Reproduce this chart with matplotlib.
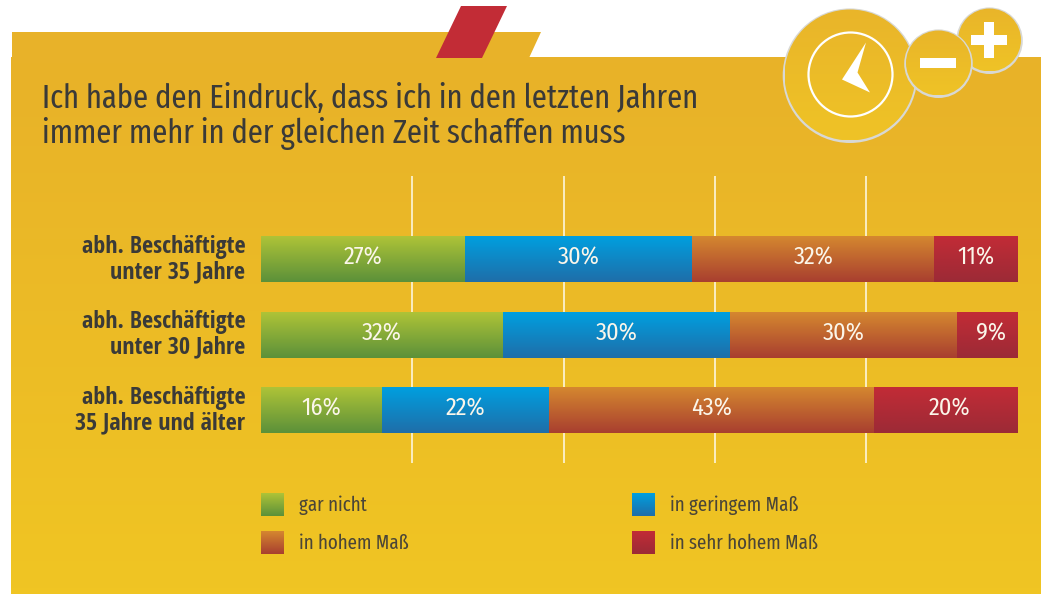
import numpy as np
import matplotlib
matplotlib.use("Agg")
import matplotlib.pyplot as plt
from matplotlib.colors import LinearSegmentedColormap
from matplotlib.patches import Circle, Polygon, Rectangle

title_lines = ["Ich habe den Eindruck, dass ich in den letzten Jahren", "immer mehr in der gleichen Zeit schaffen muss"]
groups = ["abh. Beschäftigte\nunter 35 Jahre", "abh. Beschäftigte\nunter 30 Jahre", "abh. Beschäftigte\n35 Jahre und älter"]
series = ["gar nicht", "in geringem Maß", "in hohem Maß", "in sehr hohem Maß"]
gar_nicht = [27, 32, 16]
geringem = [30, 30, 22]
hohem = [32, 30, 43]
sehr_hohem = [11, 9, 20]
ticks = [20, 40, 60, 80]

FONT = ["Fira Sans Extra Condensed", "Roboto Condensed", "Open Sans", "DejaVu Sans"]
FONT_VALUE = ["Fira Sans Condensed", "Roboto Condensed", "Open Sans", "DejaVu Sans"]
FONT_BOLD = ["Open Sans Condensed", "Roboto Condensed", "Open Sans", "DejaVu Sans"]
DARK = "#3a3a38"
W, H = 1046, 594
grads = [("#aec337", "#5c913a"), ("#009fdf", "#1f6ea9"), ("#d5872f", "#a83f30"), ("#c22c36", "#9c2a36")]


def px_axes(fig, x0, y0, x1, y1):
    return fig.add_axes([x0 / W, 1 - y1 / H, (x1 - x0) / W, (y1 - y0) / H])


def fill_grad(ax, c1, c2, left, right, top, bottom, zorder=2):
    cmap = LinearSegmentedColormap.from_list("g", [c1, c2])
    return ax.imshow(np.linspace(0, 1, 64).reshape(-1, 1), extent=[left, right, bottom, top],
                     aspect="auto", cmap=cmap, zorder=zorder, interpolation="bilinear")


fig = plt.figure(figsize=(W / 100, H / 100), dpi=100, facecolor="white")

# page decoration, in pixels
bg = px_axes(fig, 0, 0, W, H)
bg.axis("off")
bg.add_patch(Polygon([(12, 32), (541, 32), (529, 58), (12, 58)], color="#e8b229", lw=0))
fill_grad(bg, "#e8b229", "#f0c523", 11, 1041, 57, 594, zorder=1)
bg.add_patch(Polygon([(461, 6), (507, 6), (482, 58), (436, 58)], color="#c22c36", lw=0, zorder=3))

z = 3.0
for cx, cy, r in [(850, 75, 65.5), (989.5, 40, 31.5), (938.5, 63, 32.5)]:
    bg.add_patch(Circle((cx, cy + 0.7), r + 1.8, fc="#d8d8d4", ec="none", zorder=z))
    disc = Circle((cx, cy), r, fc="none", ec="none", zorder=z + 0.1)
    bg.add_patch(disc)
    im = fill_grad(bg, "#e9b52a", "#efc326", cx - r, cx + r, cy - r, cy + r, zorder=z + 0.1)
    im.set_clip_path(disc)
    z += 0.2
bg.add_patch(Circle((850.5, 74.5), 42, fc="none", ec="white", lw=1.6, zorder=4))
bg.add_patch(Polygon([(866, 42.5), (857.5, 72.5), (870, 92.5), (842, 79.5)], color="white", lw=0, zorder=4))
bg.add_patch(Rectangle((920, 58), 36, 10, color="white", lw=0, zorder=4))
bg.add_patch(Rectangle((971, 35), 36, 10, color="white", lw=0, zorder=4))
bg.add_patch(Rectangle((984, 22), 10, 36, color="white", lw=0, zorder=4))
bg.set_xlim(0, W)
bg.set_ylim(H, 0)

bg.text(42, 99, title_lines[0], fontsize=23.9, color=DARK, family=FONT, va="center", zorder=5)
bg.text(42, 134, title_lines[1], fontsize=23.9, color=DARK, family=FONT, va="center", zorder=5)

# chart
ax = px_axes(fig, 261, 176, 1017.6, 463)
ax.patch.set_alpha(0)
ypos = np.arange(len(groups))
ax.vlines(ticks, -1.1, 2.7, color="#fdf6dc", lw=1.2, zorder=1)

values = [gar_nicht, geringem, hohem, sehr_hohem]
left = np.zeros(len(groups))
for vals, (c1, c2) in zip(values, grads):
    for y, l, v in zip(ypos, left, vals):
        fill_grad(ax, c1, c2, l, l + v, y - 0.3, y + 0.3)
        ax.text(l + v / 2, y - 0.02, f"{v}%", color="#fbf6ea", fontsize=17.5, family=FONT_VALUE,
                ha="center", va="center", zorder=3)
    left = left + np.array(vals)
ax.set_xlim(0, 100)
ax.set_ylim(2.695, -1.105)
ax.axis("off")

for y, g in zip(ypos, groups):
    ax.text(-2.05, y, g, ha="right", va="center", fontsize=17.4, fontweight="bold", color=DARK,
            family=FONT_BOLD, linespacing=1.1)

# legend
legend_pos = [(261, 493), (632, 493), (261, 531), (632, 531)]
for (x, y), name, (c1, c2) in zip(legend_pos, series, grads):
    fill_grad(bg, c1, c2, x, x + 23, y, y + 23, zorder=3)
    bg.text(x + 38, y + 12, name, fontsize=14.8, color="#4a4538", family=FONT, va="center", zorder=5)
bg.set_xlim(0, W)
bg.set_ylim(H, 0)

fig.savefig("out.png", dpi=100, facecolor="white")
